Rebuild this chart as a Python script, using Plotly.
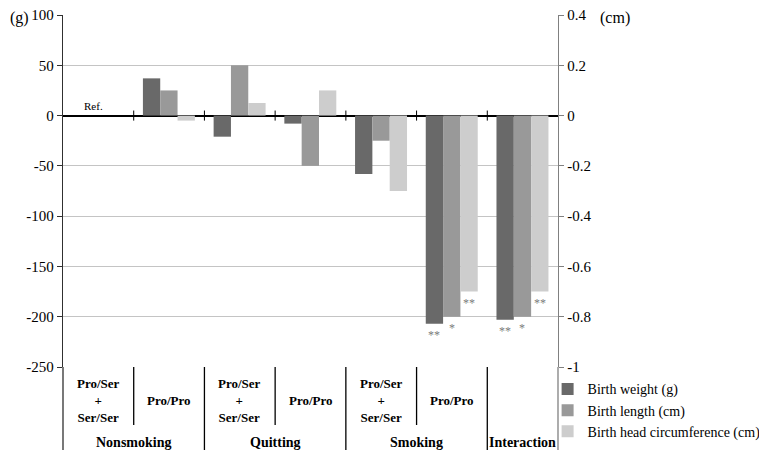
import plotly.graph_objects as go

# ---- data ----
sub_labels = ["Pro/Ser<br>+<br>Ser/Ser", "Pro/Pro", "Pro/Ser<br>+<br>Ser/Ser", "Pro/Pro",
              "Pro/Ser<br>+<br>Ser/Ser", "Pro/Pro", ""]
group_labels = ["Nonsmoking", "Quitting", "Smoking", "Interaction"]
group_spans = [(0, 1), (2, 3), (4, 5), (6, 6)]
weight_g = [0, 37, -21, -8, -58, -207, -203]
length_cm = [0, 0.1, 0.2, -0.2, -0.1, -0.8, -0.8]
head_cm = [0, -0.02, 0.05, 0.1, -0.3, -0.7, -0.7]
sig_weight = ["", "", "", "", "", "**", "**"]
sig_length = ["", "", "", "", "", "*", "*"]
sig_head = ["", "", "", "", "", "**", "**"]
series_names = ["Birth weight (g)", "Birth length (cm)", "Birth head circumference (cm)"]
left_ticks = [100, 50, 0, -50, -100, -150, -200, -250]
left_ticktext = ["100", "50", "0", "-50", "-100", "-150", "-200", "-250"]
right_ticks = [0.4, 0.2, 0, -0.2, -0.4, -0.6, -0.8, -1]
right_ticktext = ["0.4", "0.2", "0", "-0.2", "-0.4", "-0.6", "-0.8", "-1"]

FONT = "Liberation Serif, Times New Roman, Times, serif"
colors = ["#696969", "#999999", "#cdcdcd"]
W = 0.245
offsets = [-0.37, -0.125, 0.12]
x = list(range(len(sub_labels)))

fig = go.Figure()
series = [(weight_g, "y"), (length_cm, "y2"), (head_cm, "y2")]
for (vals, ax), name, c, off in zip(series, series_names, colors, offsets):
    fig.add_trace(go.Bar(x=x, y=vals, name=name, yaxis=ax, marker_color=c,
                         marker_line_width=0, width=W, offset=off))

annotations = []
# significance marks
for (vals, ax), sig, off in zip(series, [sig_weight, sig_length, sig_head], offsets):
    for i, (v, s) in enumerate(zip(vals, sig)):
        if s:
            annotations.append(dict(x=i + off + W / 2, y=v, xref="x", yref=ax, text=s,
                                    showarrow=False, yanchor="top", yshift=-2,
                                    font=dict(family=FONT, size=12, color="#7a7a7a")))
# Ref. label
annotations.append(dict(x=0, y=0, xref="x", yref="y", text="Ref.", showarrow=False,
                        yanchor="bottom", yshift=2, xshift=-5,
                        font=dict(family=FONT, size=11, color="black")))

H = 352.0
sub_y = -33 / H
grp_y = -75 / H
for i, lab in enumerate(sub_labels):
    if lab:
        annotations.append(dict(x=i, y=sub_y, xref="x", yref="paper", text="<b>" + lab + "</b>",
                                showarrow=False, yanchor="middle",
                                font=dict(family=FONT, size=13, color="black")))
for lab, (a, b) in zip(group_labels, group_spans):
    annotations.append(dict(x=(a + b) / 2, y=grp_y, xref="x", yref="paper", text="<b>" + lab + "</b>",
                            showarrow=False, yanchor="middle",
                            font=dict(family=FONT, size=14, color="black")))
annotations.append(dict(x=0, y=1, xref="paper", yref="paper", text="(g)", showarrow=False,
                        xanchor="left", yanchor="middle", xshift=-55, yshift=-3,
                        font=dict(family=FONT, size=16, color="black")))
annotations.append(dict(x=1, y=1, xref="paper", yref="paper", text="(cm)", showarrow=False,
                        xanchor="left", yanchor="middle", xshift=40, yshift=-3,
                        font=dict(family=FONT, size=16, color="black")))

shapes = []
group_ends = [b for (a, b) in group_spans]
for i in range(len(sub_labels) - 1):
    xb = i + 0.5
    full = i in group_ends
    shapes.append(dict(type="line", xref="x", yref="paper", x0=xb, x1=xb, y0=0,
                       y1=(-83 / H if full else -58 / H), line=dict(color="black", width=1.3)))
    shapes.append(dict(type="line", xref="x", yref="y", x0=xb, x1=xb, y0=-5, y1=5,
                       line=dict(color="black", width=1)))
# extend axis lines down through the label area
shapes.append(dict(type="line", xref="paper", yref="paper", x0=0, x1=0, y0=0, y1=-83 / H,
                   line=dict(color="#303030", width=1.3)))
shapes.append(dict(type="line", xref="paper", yref="paper", x0=1, x1=1, y0=0, y1=-83 / H,
                   line=dict(color="#808080", width=1.3)))

# page body adds an 8px margin, so the figure is drawn 8px smaller
fig.update_layout(
    width=759, height=442,
    margin=dict(l=55, r=209, t=7, b=83, autoexpand=False),
    paper_bgcolor="white", plot_bgcolor="white",
    barmode="overlay",
    showlegend=True,
    legend=dict(x=0.979, xanchor="left", y=-0.018, yanchor="top",
                font=dict(family=FONT, size=14, color="black"),
                tracegroupgap=0, itemwidth=30, bgcolor="rgba(0,0,0,0)"),
    xaxis=dict(range=[-0.5, 6.5], showticklabels=False, showgrid=False, zeroline=False,
               showline=False, ticks=""),
    yaxis=dict(range=[-250, 100], tickvals=left_ticks, ticktext=left_ticktext,
               showgrid=True, gridcolor="#c4c4c4", gridwidth=1,
               zeroline=True, zerolinecolor="black", zerolinewidth=1.5,
               showline=True, linecolor="#303030", linewidth=1.3,
               ticks="outside", ticklen=5, tickcolor="#303030", ticklabeloverflow="allow",
               tickfont=dict(family=FONT, size=15, color="black")),
    yaxis2=dict(range=[-1, 0.4], tickvals=right_ticks, ticktext=right_ticktext,
                overlaying="y", side="right", showgrid=False, zeroline=False,
                showline=True, linecolor="#808080", linewidth=1.3,
                ticks="outside", ticklen=5, tickcolor="#808080", ticklabeloverflow="allow",
                tickfont=dict(family=FONT, size=15, color="black")),
    annotations=annotations,
    shapes=shapes,
)

fig.write_html("out.html")
